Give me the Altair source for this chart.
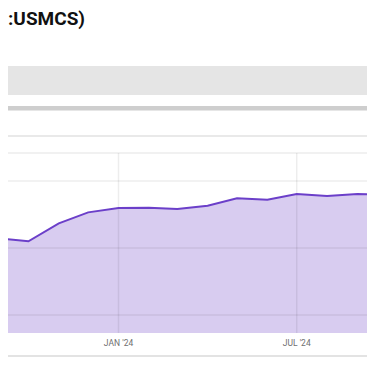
import altair as alt
import pandas as pd

# ---- data ----
months = ["2023-09-01", "2023-10-01", "2023-11-01", "2023-12-01",
          "2024-01-01", "2024-02-01", "2024-03-01", "2024-04-01",
          "2024-05-01", "2024-06-01", "2024-07-01", "2024-08-01",
          "2024-09-01", "2024-10-01"]
values = [157.2, 155.0, 168.4, 176.6, 179.9, 180.1, 179.1, 181.6,
          187.1, 186.0, 190.3, 188.8, 190.3, 189.5]
grid_values = [100, 150, 200]
baseline_value = 86.57
tick_dates = ["2024-01-01", "2024-07-01"]
tick_labels = ["JAN '24", "JUL '24"]
title_text = ":USMCS)"

W, H = 359, 350
series = pd.DataFrame({"date": months, "value": values})
grid = pd.DataFrame({"value": grid_values})
ticks = pd.DataFrame({"date": tick_dates, "label": tick_labels})
deco = pd.DataFrame({"k": [0]})

x_scale = alt.Scale(type="utc",
                    domain=[alt.DateTime(year=2023, month=9, date=10, hours=3, utc=True),
                            alt.DateTime(year=2024, month=9, date=10, hours=19, utc=True)])
y_scale = alt.Scale(domain=[67.91, 329.10], nice=False, zero=False)

X = alt.X("date:T", scale=x_scale, axis=None)
Y = alt.Y("value:Q", scale=y_scale, axis=None)

title = alt.Chart(deco).mark_text(
    align="left", baseline="alphabetic", fontSize=19, fontWeight="bold",
    font="Roboto", color="#111111"
).encode(x=alt.value(0), y=alt.value(17), text=alt.value(title_text))

band = alt.Chart(deco).mark_rect(color="#e5e5e5").encode(
    x=alt.value(0), x2=alt.value(W), y=alt.value(58), y2=alt.value(87))
thick = alt.Chart(deco).mark_rect(color="#cecece").encode(
    x=alt.value(0), x2=alt.value(W), y=alt.value(98), y2=alt.value(102.5))
thin = alt.Chart(deco).mark_rule(color="#e2e2e2", strokeWidth=1.5).encode(
    x=alt.value(0), x2=alt.value(W), y=alt.value(128))
top_border = alt.Chart(deco).mark_rule(color="#ececec", strokeWidth=1.5).encode(
    x=alt.value(0), x2=alt.value(W), y=alt.value(145))
bottom_rule = alt.Chart(deco).mark_rule(color="#dadada", strokeWidth=1.5).encode(
    x=alt.value(0), x2=alt.value(W), y=alt.value(348))

area = alt.Chart(series).mark_area(color="#d8ccf0", clip=True).encode(
    x=X, y=Y, y2=alt.datum(baseline_value))
line = alt.Chart(series).mark_line(color="#6b3fc9", strokeWidth=2, clip=True).encode(
    x=X, y=Y)

hgrid = alt.Chart(grid).mark_rule(color="black", opacity=0.07, strokeWidth=1.5).encode(
    y=Y, x=alt.value(0), x2=alt.value(W))
vgrid = alt.Chart(ticks).mark_rule(color="black", opacity=0.07, strokeWidth=1.5).encode(
    x=X, y=alt.value(145), y2=alt.value(325))
labels = alt.Chart(ticks).mark_text(
    fontSize=8.5, font="Roboto", color="#6f6f6f", baseline="middle", align="center"
).encode(x=X, y=alt.value(334.5), text="label:N")

chart = alt.layer(
    band, thick, thin, top_border, area, hgrid, vgrid, line, labels, bottom_rule, title
).properties(
    width=W, height=H, padding=0,
    autosize=alt.AutoSizeParams(type="none"),
    background="white"
).configure_view(stroke=None)

chart.save("out.html", embed_options={"renderer": "svg", "actions": False})
